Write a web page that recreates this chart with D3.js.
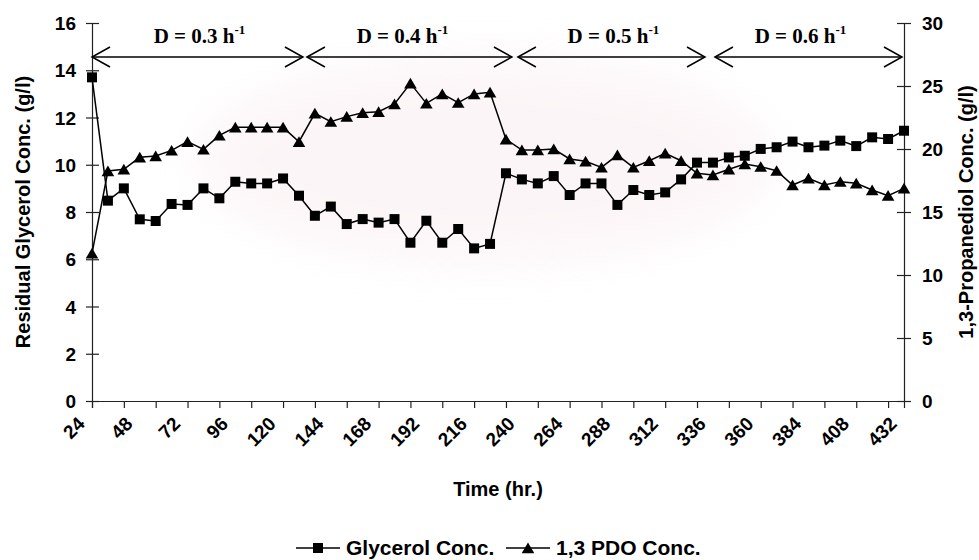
<!DOCTYPE html>
<html>
<head>
<meta charset="utf-8">
<script src="https://cdn.jsdelivr.net/npm/d3@7"></script>
<style>
  html, body { margin: 0; padding: 0; background: #fff; }
  svg { display: block; }
  .tick text { font-family: "Liberation Sans", Arial, sans-serif; font-weight: bold; font-size: 19px; fill: #000; }
</style>
</head>
<body>
<svg id="chart" width="979" height="560"></svg>
<script>
// Sampling times (hr.)
const times = [24, 32, 40, 48, 56, 64, 72, 80, 88, 96, 104, 112, 120, 128, 136, 144,
  152, 160, 168, 176, 184, 192, 200, 208, 216, 224, 232, 240, 248, 256, 264, 272,
  280, 288, 296, 304, 312, 320, 328, 336, 344, 352, 360, 368, 376, 384, 392, 400,
  408, 416, 424, 432];

// Residual glycerol (g/l), left axis
const glycerol = [13.70, 8.48, 9.00, 7.69, 7.62, 8.34, 8.30, 9.00, 8.58, 9.28, 9.21, 9.21,
  9.42, 8.69, 7.84, 8.23, 7.49, 7.70, 7.55, 7.70, 6.70, 7.63, 6.70, 7.28, 6.46, 6.65,
  9.64, 9.38, 9.21, 9.52, 8.72, 9.21, 9.21, 8.30, 8.93, 8.72, 8.83, 9.38, 10.09, 10.09,
  10.31, 10.38, 10.67, 10.74, 10.98, 10.74, 10.81, 11.02, 10.79, 11.16, 11.09, 11.44];

// 1,3-Propanediol (g/l), right axis
const pdo = [11.72, 18.25, 18.39, 19.34, 19.44, 19.89, 20.58, 19.97, 21.08, 21.72, 21.72, 21.72,
  21.72, 20.58, 22.83, 22.17, 22.57, 22.88, 22.96, 23.57, 25.21, 23.62, 24.37, 23.68, 24.37, 24.50,
  20.77, 19.92, 19.92, 20.00, 19.21, 19.03, 18.54, 19.52, 18.54, 19.07, 19.66, 19.07, 18.07, 17.94,
  18.39, 18.80, 18.60, 18.28, 17.14, 17.67, 17.14, 17.41, 17.28, 16.75, 16.30, 16.88];

// Dilution-rate phases: label, start and end time (hr.), label centre (hr.)
const phaseLabels = ["0.3", "0.4", "0.5", "0.6"];
const phaseStart = [24, 132, 238, 337];
const phaseEnd = [130, 235, 332, 431];
const phaseLabelAt = [78, 180, 286, 380];

// Axis ticks
const leftTicks = [0, 2, 4, 6, 8, 10, 12, 14, 16];
const rightTicks = [0, 5, 10, 15, 20, 25, 30];
const timeTickMarks = [24, 40, 56, 72, 88, 104, 120, 136, 152, 168, 184, 200, 216, 232,
  248, 264, 280, 296, 312, 328, 344, 360, 376, 392, 408, 424];
const timeLabels = [24, 48, 72, 96, 120, 144, 168, 192, 216, 240, 264, 288, 312, 336,
  360, 384, 408, 432];

const seriesNames = ["Glycerol Conc.", "1,3 PDO Conc."];

const svg = d3.select("#chart");
const sans = '"Liberation Sans", Arial, sans-serif';
const serif = '"Liberation Serif", "Times New Roman", serif';

const plot = { left: 92, right: 904, top: 23, bottom: 401 };

const x = d3.scaleLinear().domain([24, 432]).range([plot.left, plot.right]);
const yL = d3.scaleLinear().domain([0, 16]).range([plot.bottom, plot.top]);
const yR = d3.scaleLinear().domain([0, 30]).range([plot.bottom, plot.top]);

// Faint background emblem tint
const defs = svg.append("defs");
defs.append("filter").attr("id", "soft").attr("x", "-30%").attr("y", "-30%")
  .attr("width", "160%").attr("height", "160%")
  .append("feGaussianBlur").attr("stdDeviation", 20);
svg.append("ellipse")
  .attr("cx", 485).attr("cy", 160).attr("rx", 290).attr("ry", 105)
  .attr("fill", "#f3d6dc").attr("opacity", 0.22).attr("filter", "url(#soft)");

// Left axis with ticks crossing the line
const gL = svg.append("g").attr("transform", `translate(${plot.left},0)`)
  .call(d3.axisLeft(yL).tickValues(leftTicks).tickSize(6).tickPadding(10).tickFormat(d3.format("d")));
gL.selectAll(".tick line").attr("x1", 7);

// Right axis
const gR = svg.append("g").attr("transform", `translate(${plot.right},0)`)
  .call(d3.axisRight(yR).tickValues(rightTicks).tickSize(7).tickPadding(11).tickFormat(d3.format("d")));
gR.selectAll(".tick line").attr("x1", -7);

// Bottom axis: tick marks only
const gB = svg.append("g").attr("transform", `translate(0,${plot.bottom})`)
  .call(d3.axisBottom(x).tickValues(timeTickMarks).tickSize(7).tickFormat(""));

[gL, gR, gB].forEach(g => {
  g.select(".domain").attr("stroke", "#222").attr("stroke-width", 1.2);
  g.selectAll(".tick line").attr("stroke", "#222").attr("stroke-width", 1.2);
});
gL.selectAll(".tick text").attr("dy", "0.35em");
gR.selectAll(".tick text").attr("dy", "0.35em");

// Rotated time labels
svg.append("g").selectAll("text").data(timeLabels).join("text")
  .attr("transform", d => `translate(${x(d) - 6},${plot.bottom + 24}) rotate(-45)`)
  .attr("text-anchor", "end")
  .attr("font-family", sans).attr("font-weight", "bold").attr("font-size", 19)
  .text(d => d);

// Axis titles
svg.append("text")
  .attr("transform", `translate(30,${(plot.top + plot.bottom) / 2}) rotate(-90)`)
  .attr("text-anchor", "middle")
  .attr("font-family", sans).attr("font-weight", "bold").attr("font-size", 20)
  .text("Residual Glycerol Conc. (g/l)");

svg.append("text")
  .attr("transform", `translate(973,${(plot.top + plot.bottom) / 2}) rotate(-90)`)
  .attr("text-anchor", "middle")
  .attr("font-family", sans).attr("font-weight", "bold").attr("font-size", 20)
  .text("1,3-Propanediol Conc. (g/l)");

svg.append("text")
  .attr("x", (plot.left + plot.right) / 2).attr("y", 496)
  .attr("text-anchor", "middle")
  .attr("font-family", sans).attr("font-weight", "bold").attr("font-size", 20)
  .text("Time (hr.)");

// Phase arrows
const arrowY = 57;
const headL = 18, headH = 10;
const phases = svg.append("g").attr("stroke", "#000").attr("stroke-width", 1.5).attr("fill", "none");
phaseLabels.forEach((lab, i) => {
  const x0 = x(phaseStart[i]), x1 = x(phaseEnd[i]);
  phases.append("line").attr("x1", x0).attr("x2", x1).attr("y1", arrowY).attr("y2", arrowY);
  phases.append("path").attr("d", `M${x0 + headL},${arrowY - headH}L${x0},${arrowY}L${x0 + headL},${arrowY + headH}`);
  phases.append("path").attr("d", `M${x1 - headL},${arrowY - headH}L${x1},${arrowY}L${x1 - headL},${arrowY + headH}`);
  const t = svg.append("text")
    .attr("x", x(phaseLabelAt[i])).attr("y", 43)
    .attr("text-anchor", "middle")
    .attr("font-family", serif).attr("font-weight", "bold").attr("font-size", 21);
  t.append("tspan").text(`D = ${lab} h`);
  t.append("tspan").attr("font-size", 13).attr("dy", -9).text("-1");
});

// Series lines
const lineL = d3.line().x((d, i) => x(times[i])).y(d => yL(d));
const lineR = d3.line().x((d, i) => x(times[i])).y(d => yR(d));

svg.append("path").datum(glycerol).attr("d", lineL)
  .attr("fill", "none").attr("stroke", "#000").attr("stroke-width", 1.5);
svg.append("path").datum(pdo).attr("d", lineR)
  .attr("fill", "none").attr("stroke", "#000").attr("stroke-width", 1.5);

// Markers: filled square and a triangle centred on its bounding box
const sq = "M-5,-5H5V5H-5Z";
const tri = "M0,-5.5L6.3,5.2H-6.3Z";

svg.append("g").selectAll("path").data(glycerol).join("path")
  .attr("transform", (d, i) => `translate(${x(times[i])},${yL(d)})`)
  .attr("d", sq).attr("fill", "#000");

svg.append("g").selectAll("path").data(pdo).join("path")
  .attr("transform", (d, i) => `translate(${x(times[i])},${yR(d)})`)
  .attr("d", tri).attr("fill", "#000");

// Legend
const legY = 548;
const legend = svg.append("g");
[[296, 346, sq], [506, 556, tri]].forEach(([lx, tx, sym], i) => {
  legend.append("line").attr("x1", lx).attr("x2", lx + 44).attr("y1", legY).attr("y2", legY)
    .attr("stroke", "#000").attr("stroke-width", 1.5);
  legend.append("path").attr("transform", `translate(${lx + 22},${legY})`).attr("d", sym).attr("fill", "#000");
  legend.append("text").attr("x", tx).attr("y", legY + 7)
    .attr("font-family", sans).attr("font-weight", "bold").attr("font-size", 21)
    .text(seriesNames[i]);
});
</script>
</body>
</html>
